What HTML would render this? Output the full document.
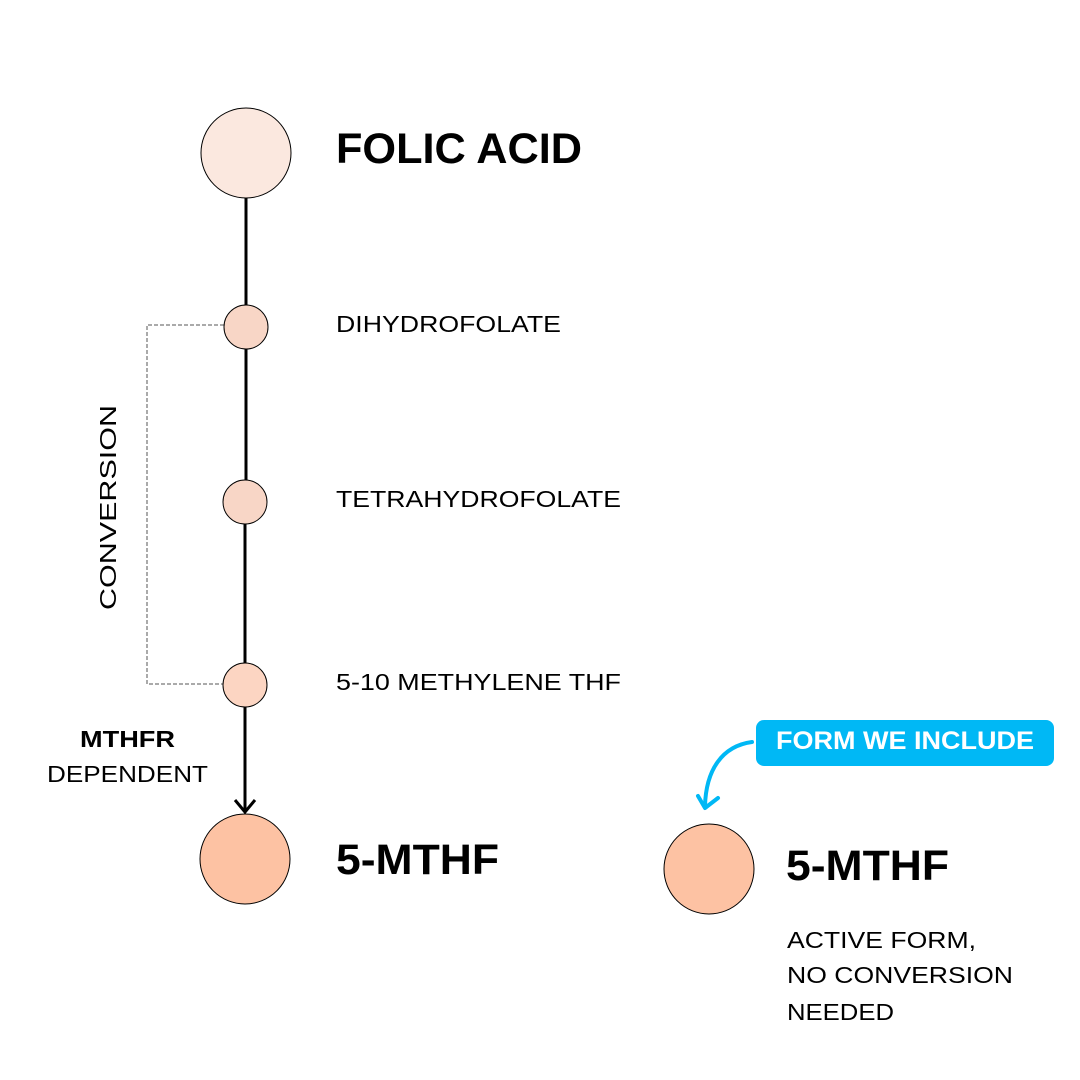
<!DOCTYPE html>
<html><head><meta charset="utf-8"><style>html,body{margin:0;padding:0;background:#fff}svg{display:block}</style></head>
<body>
<svg width="1080" height="1080" viewBox="0 0 1080 1080" xmlns="http://www.w3.org/2000/svg" font-family="Liberation Sans, sans-serif">
<rect width="1080" height="1080" fill="#fff"/>
<g stroke="#000" stroke-width="3">
<line x1="246" y1="198" x2="246" y2="305"/>
<line x1="246" y1="349" x2="246" y2="480"/>
<line x1="245" y1="524" x2="245" y2="663"/>
<line x1="245" y1="707" x2="245" y2="810"/>
</g>
<polyline points="235,800 245,812 255,800" fill="none" stroke="#000" stroke-width="3"/>
<polyline points="224,325 147,325 147,684 223,684" fill="none" stroke="#555" stroke-width="1" stroke-dasharray="4,2"/>
<g stroke="#000" stroke-width="1">
<circle cx="246" cy="153" r="45" fill="#fbe8df"/>
<circle cx="246" cy="327" r="22" fill="#f8d6c6"/>
<circle cx="245" cy="502" r="22" fill="#f8d6c6"/>
<circle cx="245" cy="685" r="22" fill="#fcd5c2"/>
<circle cx="245" cy="859" r="45" fill="#fdc2a3"/>
<circle cx="709" cy="869" r="45" fill="#fdc2a3"/>
</g>
<text x="336" y="163" font-size="43" font-weight="bold" textLength="246" lengthAdjust="spacingAndGlyphs">FOLIC ACID</text>
<text x="336" y="332" font-size="23" textLength="225" lengthAdjust="spacingAndGlyphs">DIHYDROFOLATE</text>
<text x="336" y="507" font-size="23" textLength="285" lengthAdjust="spacingAndGlyphs">TETRAHYDROFOLATE</text>
<text x="336" y="690" font-size="23" textLength="285" lengthAdjust="spacingAndGlyphs">5-10 METHYLENE THF</text>
<text x="336" y="874" font-size="43" font-weight="bold" textLength="163" lengthAdjust="spacingAndGlyphs">5-MTHF</text>
<text x="786" y="880" font-size="43" font-weight="bold" textLength="163" lengthAdjust="spacingAndGlyphs">5-MTHF</text>
<text x="787" y="948" font-size="23" textLength="189" lengthAdjust="spacingAndGlyphs">ACTIVE FORM,</text>
<text x="787" y="983" font-size="23" textLength="226" lengthAdjust="spacingAndGlyphs">NO CONVERSION</text>
<text x="787" y="1020" font-size="23" textLength="107" lengthAdjust="spacingAndGlyphs">NEEDED</text>
<text x="80" y="747" font-size="23" font-weight="bold" textLength="95" lengthAdjust="spacingAndGlyphs">MTHFR</text>
<text x="47" y="782" font-size="23" textLength="161" lengthAdjust="spacingAndGlyphs">DEPENDENT</text>
<text transform="translate(116,610) rotate(-90)" font-size="23" textLength="205" lengthAdjust="spacingAndGlyphs">CONVERSION</text>
<rect x="756" y="720" width="298" height="46" rx="8" fill="#00b8f5"/>
<text x="776" y="749" font-size="25" font-weight="bold" fill="#fff" textLength="258" lengthAdjust="spacingAndGlyphs">FORM WE INCLUDE</text>
<path d="M752,742 C722,746 706,770 705,806" fill="none" stroke="#00b8f5" stroke-width="4" stroke-linecap="round"/>
<polyline points="698,796 705,808 718,798" fill="none" stroke="#00b8f5" stroke-width="4" stroke-linecap="round" stroke-linejoin="round"/>
</svg>
</body></html>
